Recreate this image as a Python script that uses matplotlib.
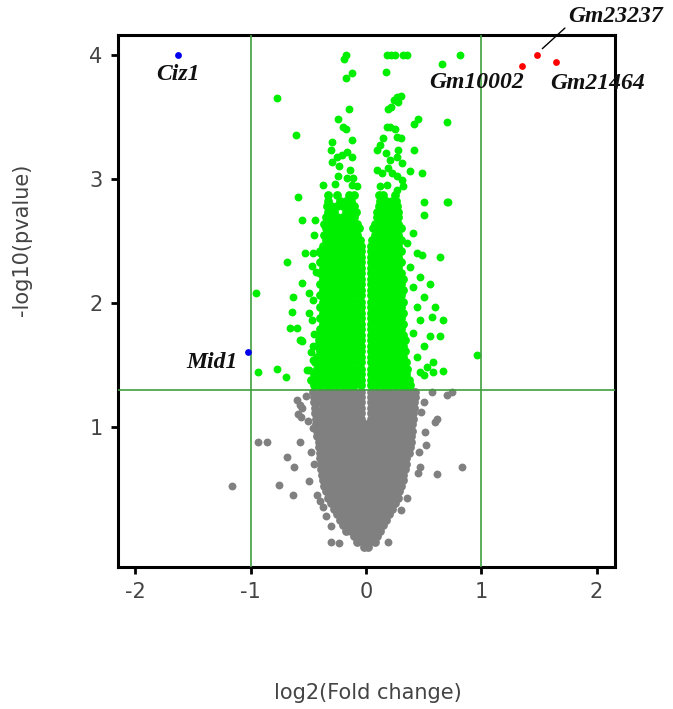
import matplotlib
matplotlib.use("Agg")
import matplotlib.pyplot as plt

# dense grey cloud (not significant), rows of (-log10 p, [log2 FC ...])
GREY_ROWS = [
    (0.03, [-0.02, 0.02]),
    (0.07, [-0.075, -0.025, 0.025, 0.075]),
    (0.12, [-0.1, -0.05, 0.0, 0.05, 0.1]),
    (0.16, [-0.175, -0.125, -0.075, -0.025, 0.025, 0.075, 0.125]),
    (0.21, [-0.2, -0.15, -0.1, -0.05, 0.0, 0.05, 0.1, 0.15]),
    (0.25, [-0.225, -0.175, -0.125, -0.075, -0.025, 0.025, 0.075, 0.125, 0.175]),
    (0.30, [-0.25, -0.2, -0.15, -0.1, -0.05, 0.0, 0.05, 0.1, 0.15, 0.2]),
    (0.34, [-0.275, -0.225, -0.175, -0.125, -0.075, -0.025, 0.025, 0.075, 0.125, 0.175, 0.225]),
    (0.39, [-0.3, -0.25, -0.2, -0.15, -0.1, -0.05, 0.0, 0.05, 0.1, 0.15, 0.2, 0.25]),
    (0.43, [-0.325, -0.275, -0.225, -0.175, -0.125, -0.075, -0.025, 0.025, 0.075, 0.125, 0.175, 0.225, 0.275]),
    (0.48, [-0.35, -0.3, -0.25, -0.2, -0.15, -0.1, -0.05, 0.0, 0.05, 0.1, 0.15, 0.2, 0.25, 0.29]),
    (0.52, [-0.36, -0.325, -0.275, -0.225, -0.175, -0.125, -0.075, -0.025, 0.025, 0.075, 0.125, 0.175, 0.225, 0.275, 0.3]),
    (0.57, [-0.37, -0.35, -0.3, -0.25, -0.2, -0.15, -0.1, -0.05, 0.0, 0.05, 0.1, 0.15, 0.2, 0.25, 0.3, 0.32]),
    (0.61, [-0.385, -0.325, -0.275, -0.225, -0.175, -0.125, -0.075, -0.025, 0.025, 0.075, 0.125, 0.175, 0.225, 0.275, 0.325]),
    (0.66, [-0.39, -0.35, -0.3, -0.25, -0.2, -0.15, -0.1, -0.05, 0.0, 0.05, 0.1, 0.15, 0.2, 0.25, 0.3, 0.34]),
    (0.70, [-0.39, -0.375, -0.325, -0.275, -0.225, -0.175, -0.125, -0.075, -0.025, 0.025, 0.075, 0.125, 0.175, 0.225, 0.275, 0.325, 0.35]),
    (0.75, [-0.4, -0.35, -0.3, -0.25, -0.2, -0.15, -0.1, -0.05, 0.0, 0.05, 0.1, 0.15, 0.2, 0.25, 0.3, 0.35]),
    (0.79, [-0.4, -0.375, -0.325, -0.275, -0.225, -0.175, -0.125, -0.075, -0.025, 0.025, 0.075, 0.125, 0.175, 0.225, 0.275, 0.325, 0.37]),
    (0.84, [-0.41, -0.35, -0.3, -0.25, -0.2, -0.15, -0.1, -0.05, 0.0, 0.05, 0.1, 0.15, 0.2, 0.25, 0.3, 0.35, 0.38]),
    (0.88, [-0.41, -0.375, -0.325, -0.275, -0.225, -0.175, -0.125, -0.075, -0.025, 0.025, 0.075, 0.125, 0.175, 0.225, 0.275, 0.325, 0.375, 0.39]),
    (0.93, [-0.42, -0.38, -0.35, -0.3, -0.25, -0.2, -0.15, -0.1, -0.05, 0.0, 0.05, 0.1, 0.15, 0.2, 0.25, 0.3, 0.35, 0.39]),
    (0.97, [-0.42, -0.375, -0.325, -0.275, -0.225, -0.175, -0.125, -0.075, -0.025, 0.025, 0.075, 0.125, 0.175, 0.225, 0.275, 0.325, 0.375, 0.4]),
    (1.02, [-0.43, -0.4, -0.35, -0.3, -0.25, -0.2, -0.15, -0.1, -0.05, 0.0, 0.05, 0.1, 0.15, 0.2, 0.25, 0.3, 0.35, 0.4]),
    (1.06, [-0.43, -0.375, -0.325, -0.275, -0.225, -0.175, -0.125, -0.075, -0.045, 0.045, 0.075, 0.125, 0.175, 0.225, 0.275, 0.325, 0.375, 0.41]),
    (1.11, [-0.44, -0.4, -0.35, -0.3, -0.25, -0.2, -0.15, -0.1, -0.045, 0.045, 0.1, 0.15, 0.2, 0.25, 0.3, 0.35, 0.4, 0.41]),
    (1.15, [-0.44, -0.375, -0.325, -0.275, -0.225, -0.175, -0.125, -0.075, -0.045, 0.045, 0.075, 0.125, 0.175, 0.225, 0.275, 0.325, 0.375, 0.42]),
    (1.20, [-0.45, -0.4, -0.35, -0.3, -0.25, -0.2, -0.15, -0.1, -0.045, 0.045, 0.1, 0.15, 0.2, 0.25, 0.3, 0.35, 0.4, 0.42]),
    (1.24, [-0.45, -0.425, -0.375, -0.325, -0.275, -0.225, -0.175, -0.125, -0.075, -0.045, 0.045, 0.075, 0.125, 0.175, 0.225, 0.275, 0.325, 0.375, 0.43]),
    (1.28, [-0.46, -0.4, -0.35, -0.3, -0.25, -0.2, -0.15, -0.1, -0.045, 0.045, 0.1, 0.15, 0.2, 0.25, 0.3, 0.35, 0.4, 0.43]),
]

# scattered grey genes around the cloud
GREY_X = [-0.60, -0.57, -0.55, -0.59, -0.56, -0.46, -0.57, -0.68, -0.62, -0.49, -0.75, -0.63,
          -0.37, -0.30, -0.23, 0.19, -0.94, -0.86, -1.16, -0.52, -0.50, -0.48, -0.45, -0.42,
          -0.40, -0.35, -0.30, 0.57, 0.70, 0.75, 0.60, 0.62, 0.51, 0.83, 0.62, 0.47, 0.45,
          0.30, 0.36, 0.50, 0.48, 0.52, 0.46]
GREY_Y = [1.22, 1.18, 1.15, 1.10, 1.08, 0.99, 0.88, 0.76, 0.68, 0.56, 0.53, 0.45,
          0.35, 0.07, 0.06, 0.07, 0.88, 0.88, 0.52, 1.25, 1.05, 0.80, 0.70, 0.45,
          0.40, 0.28, 0.20, 1.28, 1.26, 1.28, 1.04, 1.06, 0.96, 0.68, 0.62, 0.68, 0.63,
          0.33, 0.43, 1.20, 1.12, 0.85, 0.80]

# dense green lobes (p < 0.05)
ROW_E = [-0.4, -0.35, -0.3, -0.25, -0.2, -0.15, -0.1, -0.045, 0.045, 0.1, 0.15, 0.2, 0.25, 0.3]
ROW_O = [-0.375, -0.325, -0.275, -0.225, -0.175, -0.125, -0.075, -0.045, 0.045, 0.075, 0.125, 0.175, 0.225, 0.275, 0.325]
ROW_O2 = [-0.375, -0.325, -0.275, -0.225, -0.175, -0.125, -0.075, -0.045, 0.045, 0.075, 0.125, 0.175, 0.225, 0.275]
GREEN_ROWS = [
    (1.34, [-0.45, -0.4, -0.35, -0.3, -0.25, -0.2, -0.15, -0.1, -0.045, 0.045, 0.1, 0.15, 0.2, 0.25, 0.3, 0.35, 0.38]),
    (1.38, [-0.475, -0.425, -0.375, -0.325, -0.275, -0.225, -0.175, -0.125, -0.075, -0.045, 0.045, 0.075, 0.125, 0.175, 0.225, 0.275, 0.325, 0.375]),
    (1.43, [-0.45, -0.4, -0.35, -0.3, -0.25, -0.2, -0.15, -0.1, -0.045, 0.045, 0.1, 0.15, 0.2, 0.25, 0.3, 0.35]),
    (1.47, [-0.425, -0.375, -0.325, -0.275, -0.225, -0.175, -0.125, -0.075, -0.045, 0.045, 0.075, 0.125, 0.175, 0.225, 0.275, 0.325, 0.36]),
    (1.52, [-0.44, -0.4, -0.35, -0.3, -0.25, -0.2, -0.15, -0.1, -0.045, 0.045, 0.1, 0.15, 0.2, 0.25, 0.3, 0.35]),
    (1.56, [-0.425, -0.375, -0.325, -0.275, -0.225, -0.175, -0.125, -0.075, -0.045, 0.045, 0.075, 0.125, 0.175, 0.225, 0.275, 0.325]),
    (1.61, [-0.4, -0.35, -0.3, -0.25, -0.2, -0.15, -0.1, -0.045, 0.045, 0.1, 0.15, 0.2, 0.25, 0.3, 0.34]),
    (1.65, [-0.425, -0.375, -0.325, -0.275, -0.225, -0.175, -0.125, -0.075, -0.045, 0.045, 0.075, 0.125, 0.175, 0.225, 0.275, 0.325]),
    (1.70, [-0.41, -0.35, -0.3, -0.25, -0.2, -0.15, -0.1, -0.045, 0.045, 0.1, 0.15, 0.2, 0.25, 0.3, 0.34]),
    (1.74, [-0.41, -0.375, -0.325, -0.275, -0.225, -0.175, -0.125, -0.075, -0.045, 0.045, 0.075, 0.125, 0.175, 0.225, 0.275, 0.325]),
    (1.79, ROW_E), (1.83, ROW_O), (1.88, ROW_E), (1.92, ROW_O), (1.97, ROW_E),
    (2.01, ROW_O), (2.06, ROW_E), (2.10, ROW_O), (2.15, ROW_E), (2.19, ROW_O),
    (2.24, ROW_E), (2.28, ROW_O2), (2.33, ROW_E), (2.37, ROW_O2), (2.42, ROW_E),
    (2.46, ROW_O2),
    (2.51, [-0.35, -0.3, -0.25, -0.2, -0.15, -0.1, -0.05, 0.05, 0.1, 0.15, 0.2, 0.25, 0.3]),
    (2.55, [-0.36, -0.325, -0.275, -0.225, -0.175, -0.125, -0.075, 0.075, 0.125, 0.175, 0.225, 0.275]),
    (2.60, [-0.35, -0.3, -0.25, -0.2, -0.15, -0.1, -0.06, 0.06, 0.1, 0.15, 0.2, 0.25, 0.3]),
    (2.64, [-0.36, -0.325, -0.275, -0.225, -0.175, -0.125, -0.075, 0.075, 0.125, 0.175, 0.225, 0.275]),
    (2.69, [-0.35, -0.3, -0.25, -0.2, -0.15, -0.1, 0.1, 0.15, 0.2, 0.25, 0.28]),
    (2.73, [-0.325, -0.275, -0.175, -0.125, -0.09, 0.1, 0.125, 0.175, 0.225, 0.275]),
    (2.78, [-0.34, -0.3, -0.25, -0.2, -0.15, -0.1, 0.11, 0.15, 0.2, 0.25, 0.27]),
    (2.82, [-0.325, -0.225, -0.175, -0.125, 0.125, 0.175, 0.225, 0.265]),
    (2.87, [-0.33, -0.25, -0.15, -0.1, 0.11, 0.15, 0.25]),
]

# sparse green genes (upper part and fringe)
GREEN_X = [-0.19, -0.17, 0.18, 0.22, 0.25, 0.32, 0.36, 0.82, 0.66, 0.17, -0.12, -0.17,
           -0.77, 0.27, 0.30, 0.24, 0.28, -0.15, 0.22, 0.19, -0.24, 0.45, 0.42, 0.70,
           -0.20, -0.17, 0.18, 0.21, 0.25, 0.27, -0.61, -0.12, -0.29, -0.30, 0.15, 0.12,
           0.30, -0.25, -0.21, -0.16, -0.12, -0.29, 0.10, 0.17, 0.21, 0.28, 0.27, 0.31,
           0.42, 0.38, 0.49, -0.23, -0.14, -0.24, -0.16, -0.11, 0.10, 0.14, 0.19, 0.23,
           0.27, 0.31, -0.37, -0.27, -0.12, -0.08, 0.12, 0.18, 0.32, 0.27,
           -0.59, 0.50, 0.50, 0.70, -0.55, -0.44,
           -0.95, -0.63, -0.64, -0.66, -0.60, -0.57, -0.55, -0.94, -0.77, -0.69, -0.49,
           -0.46, -0.68, -0.55, -0.46, -0.40, -0.53, -0.49, -0.46, -0.49, -0.47, -0.56,
           -0.46, -0.51, -0.45, -0.43, -0.47, -0.45, -0.48,
           0.71, 0.64, 0.49, 0.56, 0.60, 0.57, 0.67, 0.56, 0.64, 0.58, 0.67, 0.58, 0.50,
           0.96, 0.41, 0.36, 0.44, 0.38, 0.47, 0.41, 0.50, 0.44, 0.47, 0.41, 0.50, 0.44,
           0.53, 0.47]
GREEN_Y = [3.97, 4.00, 4.00, 4.00, 4.00, 4.00, 4.00, 4.00, 3.93, 3.86, 3.85, 3.81,
           3.65, 3.66, 3.67, 3.64, 3.62, 3.56, 3.58, 3.56, 3.48, 3.48, 3.44, 3.46,
           3.42, 3.40, 3.42, 3.42, 3.40, 3.34, 3.35, 3.31, 3.30, 3.23, 3.33, 3.27,
           3.33, 3.18, 3.19, 3.22, 3.18, 3.14, 3.23, 3.21, 3.15, 3.23, 3.18, 3.13,
           3.23, 3.06, 3.05, 3.10, 3.07, 3.02, 3.01, 3.01, 3.07, 3.05, 3.09, 3.05,
           3.02, 2.99, 2.95, 2.96, 2.95, 2.94, 2.94, 2.95, 2.94, 2.91,
           2.85, 2.81, 2.71, 2.81, 2.67, 2.67,
           2.08, 2.05, 1.93, 1.80, 1.80, 1.70, 1.69, 1.44, 1.47, 1.40, 1.46,
           1.54, 2.33, 2.16, 2.40, 2.40, 2.40, 2.08, 2.02, 1.92, 1.86, 1.70,
           1.65, 1.46, 2.55, 2.25, 2.30, 1.75, 1.60,
           2.81, 2.37, 2.39, 2.15, 1.97, 1.89, 1.86, 1.73, 1.73, 1.52, 1.45, 1.44, 1.42,
           1.58, 2.56, 2.48, 2.40, 2.29, 2.21, 2.13, 2.05, 1.97, 1.86, 1.76, 1.65, 1.56,
           1.48, 1.44]

# named genes
DOWN_GENES = ["Ciz1", "Mid1"]
DOWN_X = [-1.63, -1.02]
DOWN_Y = [4.00, 1.60]
UP_GENES = ["Gm10002", "Gm23237", "Gm21464"]
UP_X = [1.35, 1.48, 1.65]
UP_Y = [3.91, 4.00, 3.94]

FC_CUT = 1.0
P_CUT = 1.30

plt.rcParams["axes.unicode_minus"] = False

fig = plt.figure(figsize=(6.73, 7.09), dpi=100)
ax = fig.add_axes([0.1753, 0.2003, 0.7385, 0.7503])

# cloud cores drawn a bit fatter so the rows merge into a solid mass
gx = [x for y, xs in GREY_ROWS for x in xs]
gy = [y for y, xs in GREY_ROWS for x in xs]
ax.scatter(gx, gy, s=40, color="#808080", linewidths=0, zorder=1)
ax.scatter(GREY_X, GREY_Y, s=32, color="#808080", linewidths=0, zorder=1)

sx = [x for y, xs in GREEN_ROWS for x in xs]
sy = [y for y, xs in GREEN_ROWS for x in xs]
ax.scatter(sx, sy, s=40, color="#00ee00", linewidths=0, zorder=2)
ax.scatter(GREEN_X, GREEN_Y, s=32, color="#00ee00", linewidths=0, zorder=2)

ax.axhline(P_CUT, color="#3f9f3f", lw=1.2, zorder=3)
ax.axvline(-FC_CUT, color="#3f9f3f", lw=1.2, zorder=3)
ax.axvline(FC_CUT, color="#3f9f3f", lw=1.2, zorder=3)

ax.scatter(DOWN_X, DOWN_Y, s=24, color="#0000ee", linewidths=0, zorder=4)
ax.scatter(UP_X, UP_Y, s=24, color="#ff0000", linewidths=0, zorder=4)

lab = dict(fontsize=17, fontweight="bold", fontstyle="italic",
           family="Liberation Serif", color="#111111")
ax.text(-1.63, 3.84, DOWN_GENES[0], ha="center", va="center", **lab)
ax.text(-1.11, 1.52, DOWN_GENES[1], ha="right", va="center", **lab)
ax.text(1.37, 3.78, UP_GENES[0], ha="right", va="center", **lab)
ax.text(1.60, 3.77, UP_GENES[2], ha="left", va="center", **lab)
ax.annotate(UP_GENES[1], xy=(1.53, 4.05), xytext=(1.75, 4.31),
            ha="left", va="center", annotation_clip=False,
            arrowprops=dict(arrowstyle="-", color="black", lw=1,
                            shrinkA=0, shrinkB=0, relpos=(0.02, 0.15)),
            **lab)

ax.set_xlim(-2.15, 2.16)
ax.set_ylim(-0.13, 4.16)
ax.set_xticks([-2, -1, 0, 1, 2])
ax.set_yticks([1, 2, 3, 4])
for sp in ax.spines.values():
    sp.set_linewidth(2.2)
ax.tick_params(direction="out", length=5, width=2, labelsize=15,
               labelcolor="#444444", pad=6)

ax.set_xlabel("log2(Fold change)", fontsize=15, color="#444444")
ax.set_ylabel("-log10(pvalue)", fontsize=15, color="#444444")
ax.xaxis.set_label_coords(0.503, -0.219)
ax.yaxis.set_label_coords(-0.173, 0.615)

fig.savefig("out.png", dpi=100)
